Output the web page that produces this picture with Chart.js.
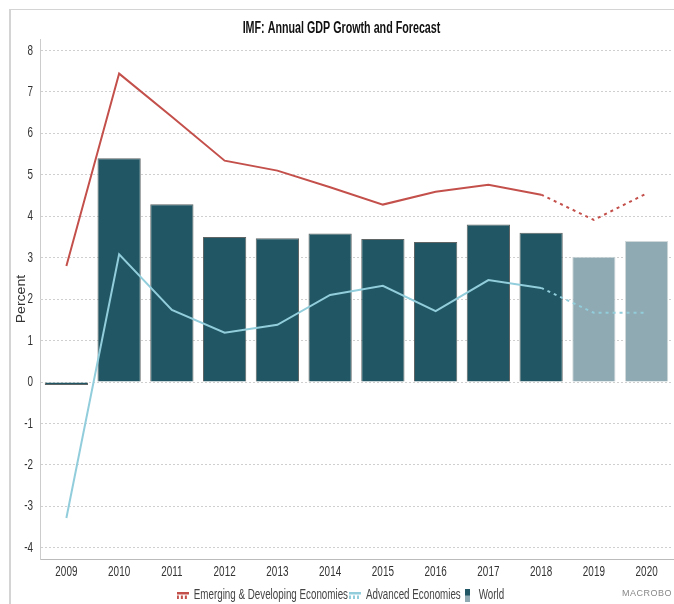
<!DOCTYPE html>
<html>
<head>
<meta charset="utf-8">
<script src="https://cdn.jsdelivr.net/npm/chart.js@4.4.1/dist/chart.umd.min.js"></script>
<style>
  body { margin: 0; background: #fff; }
  #wrap { position: relative; width: 674px; height: 604px; overflow: hidden; }
  #frame { position: absolute; left: 9px; top: 9px; width: 700px; height: 700px; border-left: 2px solid #d4d4d4; border-top: 1px solid #d4d4d4; }
  #mark { position: absolute; right: 2px; top: 588px; font: 9px 'Liberation Sans', sans-serif; color: #888; letter-spacing: 0.5px; }
  canvas { position: absolute; left: 0; top: 0; }
</style>
</head>
<body>
<div id="wrap">
  <div id="frame"></div>
  <canvas id="chart" width="674" height="604"></canvas>
  <div id="mark">MACROBO</div>
</div>
<script>
const years = ['2009', '2010', '2011', '2012', '2013', '2014', '2015', '2016', '2017', '2018', '2019', '2020'];
const emerging = [2.8, 7.44, 6.4, 5.34, 5.1, 4.7, 4.28, 4.59, 4.76, 4.52, 3.91, 4.55];
const advanced = [-3.28, 3.08, 1.74, 1.19, 1.38, 2.1, 2.32, 1.71, 2.46, 2.27, 1.67, 1.67];
const world = [-0.07, 5.4, 4.29, 3.5, 3.47, 3.58, 3.45, 3.38, 3.8, 3.6, 3.02, 3.4];
const yTicks = [-4, -3, -2, -1, 0, 1, 2, 3, 4, 5, 6, 7, 8];
const forecastFrom = 9; // index of 2018, lines are dashed after it

// the original uses a narrow font, squeeze Liberation Sans horizontally instead
// (ticks 15px, legend 14px, axis title 13px, chart title bold)
const canvas = document.getElementById('chart');
const ctx = canvas.getContext('2d');
function squeeze() {
  const f = ctx.font;
  if (f.includes('bold')) return 0.67;
  if (f.includes('15px')) return 0.66;
  if (f.includes('14px')) return 0.7;
  if (f.includes('13px')) return 1.08;
  return 1;
}
const fillText = ctx.fillText.bind(ctx);
const measureText = ctx.measureText.bind(ctx);
ctx.measureText = t => {
  const m = measureText(t);
  return { width: m.width * squeeze(), actualBoundingBoxAscent: m.actualBoundingBoxAscent, actualBoundingBoxDescent: m.actualBoundingBoxDescent };
};
ctx.fillText = (t, x, y) => {
  const k = squeeze();
  ctx.save();
  ctx.translate(x, y);
  ctx.scale(k, 1);
  fillText(t, 0, 0);
  ctx.restore();
};

// legend icons
function lineIcon(color) {
  const c = document.createElement('canvas');
  c.width = 12; c.height = 7;
  const g = c.getContext('2d');
  g.fillStyle = color;
  g.fillRect(0, 0, 12, 7);
  g.fillStyle = '#fff';
  g.fillRect(0, 3, 12, 1);
  for (let x = 0; x < 12; x += 4) g.fillRect(x + 2, 4, 2, 3);
  return c;
}
function barIcon() {
  const c = document.createElement('canvas');
  c.width = 5; c.height = 13;
  const g = c.getContext('2d');
  g.fillStyle = '#215764';
  g.fillRect(0, 0, 5, 7);
  g.fillStyle = '#8faab2';
  g.fillRect(0, 7, 5, 6);
  return c;
}

const font = "'Liberation Sans', Arial, sans-serif";
const barColors = years.map((y, i) => i > forecastFrom ? '#8faab2' : '#215764');
const barBorders = years.map((y, i) => i > forecastFrom ? '#d0d8da' : '#5f6464');
const dashAfter = dash => ({
  borderDash: c => c.p0DataIndex >= forecastFrom ? dash : undefined
});

new Chart(ctx, {
  type: 'bar',
  data: {
    labels: years,
    datasets: [
      { type: 'line', label: 'Emerging & Developing Economies', data: emerging, borderColor: '#c4504b', backgroundColor: '#c4504b', borderWidth: 2, pointRadius: 0, tension: 0, order: 0, segment: dashAfter([3, 4]) },
      { type: 'line', label: 'Advanced Economies', data: advanced, borderColor: '#92cddc', backgroundColor: '#92cddc', borderWidth: 2, pointRadius: 0, tension: 0, order: 0, segment: dashAfter([3, 4]) },
      { label: 'World', data: world, backgroundColor: barColors, borderColor: barBorders, borderWidth: 1, barPercentage: 0.82, categoryPercentage: 1, order: 1 }
    ]
  },
  options: {
    responsive: false,
    animation: false,
    layout: { padding: { left: 10, right: 1, top: 0, bottom: -8 } },
    plugins: {
      title: { display: true, text: 'IMF: Annual GDP Growth and Forecast', color: '#111', font: { family: font, size: 16, weight: 'bold' }, padding: { top: 19, bottom: 1 } },
      legend: {
        position: 'bottom',
        labels: {
          color: '#444', font: { family: font, size: 14 }, boxHeight: 8, padding: 3,
          usePointStyle: true, pointStyleWidth: 8,
          generateLabels: chart => chart.data.datasets.map((ds, i) => ({
            text: ds.label, pointStyle: i === 2 ? barIcon() : lineIcon(ds.borderColor), lineWidth: 0, datasetIndex: i, fontColor: '#444'
          }))
        }
      },
      tooltip: { enabled: false }
    },
    scales: {
      x: {
        grid: { display: false, drawTicks: false },
        border: { color: '#bbb', width: 1 },
        ticks: { color: '#333', font: { family: font, size: 15 }, padding: 4 }
      },
      y: {
        min: -4.27, max: 8.27,
        afterBuildTicks: axis => { axis.ticks = yTicks.map(v => ({ value: v })); },
        afterFit: axis => { axis.width = 30; },
        grid: { color: '#cfcfcf', drawTicks: false },
        border: { color: '#ccc', width: 1, dash: [2, 2] },
        title: { display: true, text: 'Percent', color: '#333', font: { family: font, size: 13 }, padding: { top: 4, bottom: 0 } },
        ticks: { color: '#333', font: { family: font, size: 15 }, padding: 7 }
      }
    }
  }
});
</script>
</body>
</html>
